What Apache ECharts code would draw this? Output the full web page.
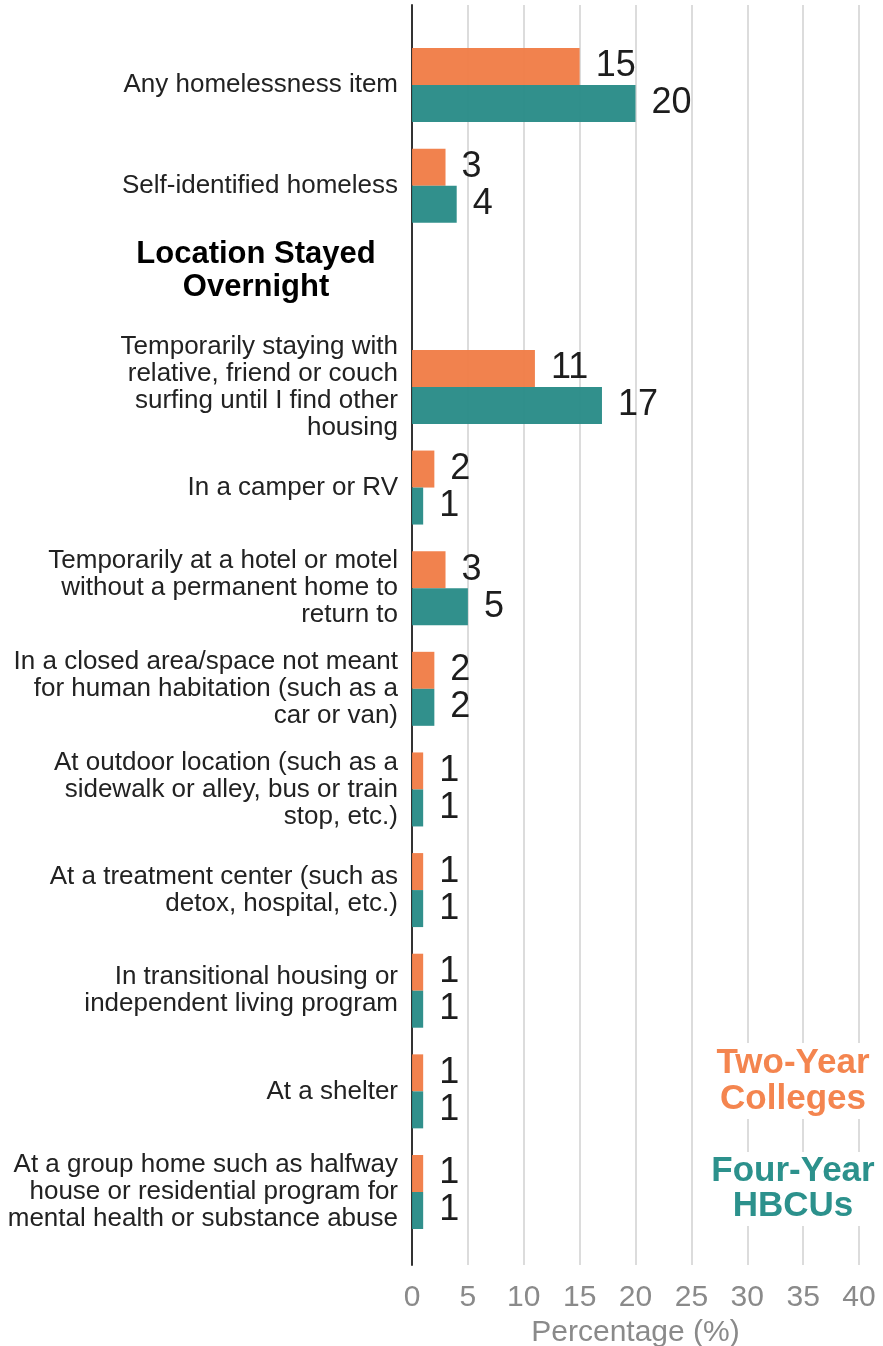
<!DOCTYPE html>
<html>
<head>
<meta charset="utf-8">
<script src="https://cdn.jsdelivr.net/npm/echarts@6/dist/echarts.min.js"></script>
<style>
  html, body { margin: 0; padding: 0; background: #fff; }
  #chart { width: 883px; height: 1346px; }
</style>
</head>
<body>
<div id="chart"></div>
<script>
// categories, top to bottom
var header = 'Location Stayed\nOvernight';
var categories = [
  'Any homelessness item',
  'Self-identified homeless',
  header,
  'Temporarily staying with\nrelative, friend or couch\nsurfing until I find other\nhousing',
  'In a camper or RV',
  'Temporarily at a hotel or motel\nwithout a permanent home to\nreturn to',
  'In a closed area/space not meant\nfor human habitation (such as a\ncar or van)',
  'At outdoor location (such as a\nsidewalk or alley, bus or train\nstop, etc.)',
  'At a treatment center (such as\ndetox, hospital, etc.)',
  'In transitional housing or\nindependent living program',
  'At a shelter',
  'At a group home such as halfway\nhouse or residential program for\nmental health or substance abuse'
];
var twoYear = [15, 3, null, 11, 2, 3, 2, 1, 1, 1, 1, 1];
var fourYear = [20, 4, null, 17, 1, 5, 2, 1, 1, 1, 1, 1];

var FONT = "'Liberation Sans', Arial, sans-serif";
var ORANGE = '#F07B45';
var TEAL = '#268A86';

var chart = echarts.init(document.getElementById('chart'));

function barLabel() {
  return {
    show: true,
    position: 'right',
    distance: 16,
    color: '#111',
    fontSize: 36,
    fontFamily: FONT
  };
}

chart.setOption({
  animation: false,
  backgroundColor: '#fff',
  grid: [
    // background grid: lines, axis, ticks
    { left: 412, right: 24, top: 5, bottom: 81, outerBoundsMode: 'none' },
    // bars
    { left: 412, right: 24, top: 34.7, bottom: 103.7, outerBoundsMode: 'none' }
  ],
  xAxis: [
    {
      gridIndex: 0,
      type: 'value',
      min: 0,
      max: 40,
      interval: 5,
      name: 'Percentage (%)',
      nameLocation: 'middle',
      nameGap: 47,
      nameTextStyle: { color: '#8a8a8a', fontSize: 30, fontFamily: FONT },
      axisLine: { show: false },
      axisTick: { show: false },
      axisLabel: { color: '#8a8a8a', fontSize: 30, fontFamily: FONT, margin: 18 },
      splitLine: { lineStyle: { color: '#dcdcdc', width: 2 } }
    },
    {
      gridIndex: 1,
      type: 'value',
      min: 0,
      max: 40,
      show: false
    }
  ],
  yAxis: [
    {
      gridIndex: 0,
      type: 'value',
      min: 0,
      max: 1,
      axisLine: { show: true, lineStyle: { color: '#333', width: 2 } },
      axisTick: { show: false },
      axisLabel: { show: false },
      splitLine: { show: false }
    },
    {
      gridIndex: 1,
      type: 'category',
      inverse: true,
      data: categories,
      axisLine: { show: false },
      axisTick: { show: false },
      axisLabel: {
        margin: 14,
        color: '#222',
        fontSize: 26,
        lineHeight: 27,
        fontFamily: FONT,
        formatter: function (v) { return v === header ? '' : v; }
      }
    }
  ],
  graphic: [
    {
      type: 'text',
      x: 256,
      y: 271,
      style: {
        text: header,
        align: 'center',
        verticalAlign: 'middle',
        fill: '#000',
        font: 'bold 31px ' + FONT,
        lineHeight: 33
      }
    },
    {
      type: 'text',
      x: 793,
      y: 1081,
      z: 10,
      style: {
        text: 'Two-Year\nColleges',
        align: 'center',
        verticalAlign: 'middle',
        fill: '#F4854F',
        font: 'bold 35px ' + FONT,
        lineHeight: 36,
        backgroundColor: '#fff',
        padding: [2, 10]
      }
    },
    {
      type: 'text',
      x: 793,
      y: 1189,
      z: 10,
      style: {
        text: 'Four-Year\nHBCUs',
        align: 'center',
        verticalAlign: 'middle',
        fill: '#2C918C',
        font: 'bold 35px ' + FONT,
        lineHeight: 35,
        backgroundColor: '#fff',
        padding: [2, 10]
      }
    }
  ],
  series: [
    {
      name: 'Two-Year Colleges',
      type: 'bar',
      xAxisIndex: 1,
      yAxisIndex: 1,
      data: twoYear,
      barWidth: 37,
      barGap: '0%',
      itemStyle: { color: ORANGE, opacity: 0.95 },
      label: barLabel()
    },
    {
      name: 'Four-Year HBCUs',
      type: 'bar',
      xAxisIndex: 1,
      yAxisIndex: 1,
      data: fourYear,
      barWidth: 37,
      barGap: '0%',
      itemStyle: { color: TEAL, opacity: 0.95 },
      label: barLabel()
    }
  ]
});
</script>
</body>
</html>
